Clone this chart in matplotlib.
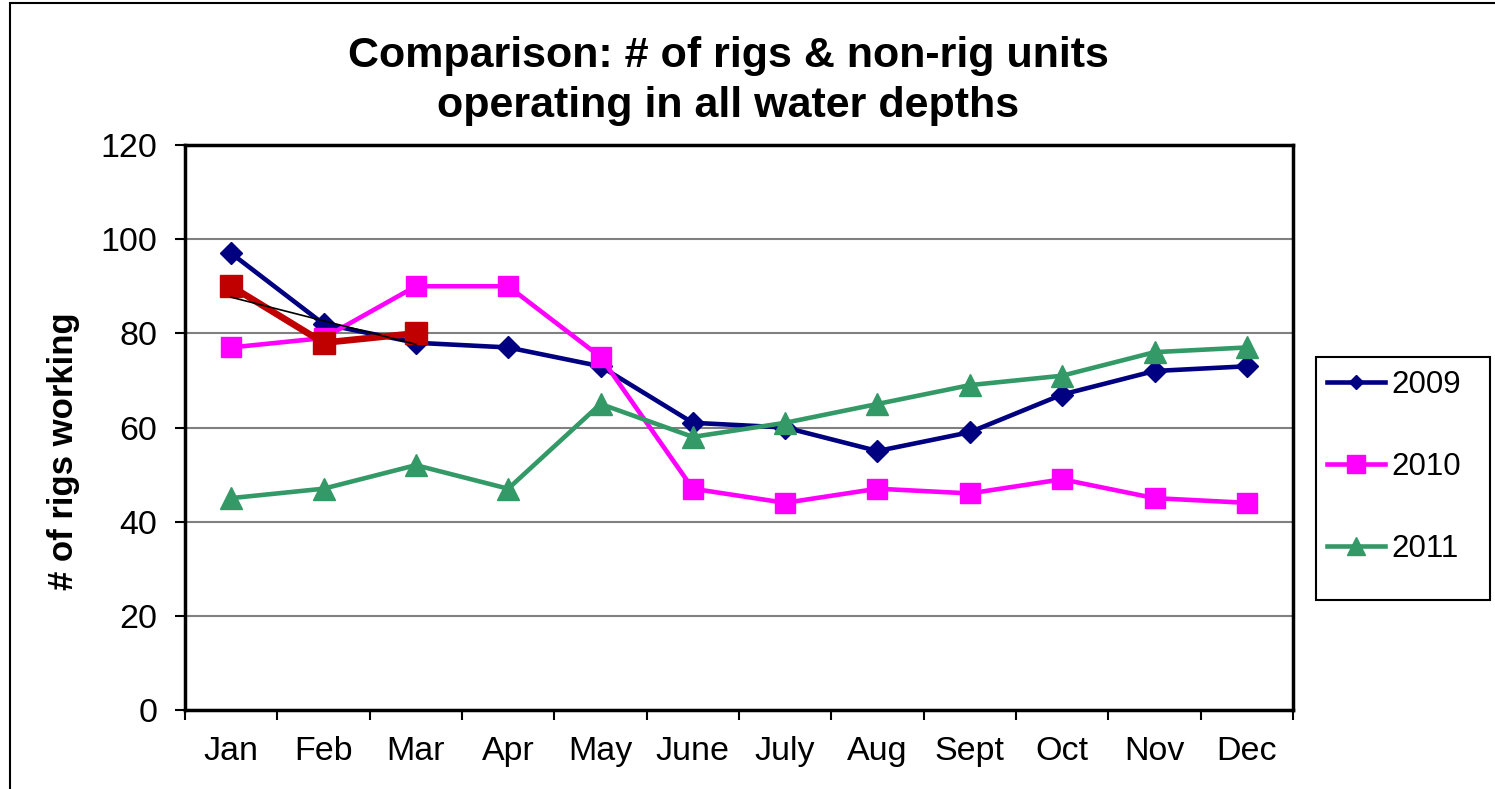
import numpy as np
import matplotlib
matplotlib.use("Agg")
import matplotlib.pyplot as plt
from matplotlib.patches import Rectangle
from matplotlib.ticker import FixedLocator

plt.rcParams['font.family'] = ['Liberation Sans', 'DejaVu Sans']

months = ['Jan', 'Feb', 'Mar', 'Apr', 'May', 'June', 'July', 'Aug', 'Sept', 'Oct', 'Nov', 'Dec']
rigs_2009 = [97, 82, 78, 77, 73, 61, 60, 55, 59, 67, 72, 73]
rigs_2010 = [77, 79, 90, 90, 75, 47, 44, 47, 46, 49, 45, 44]
rigs_2011 = [45, 47, 52, 47, 65, 58, 61, 65, 69, 71, 76, 77]
rigs_2012 = [90, 78, 80]

x = np.arange(len(months))
W, H = 1495, 789

fig = plt.figure(figsize=(W / 100, H / 100), dpi=100)
# outer chart border (right/bottom run off the image)
fig.patches.append(Rectangle((10 / W, -0.01), 1.0, (H - 3) / H + 0.01,
                             transform=fig.transFigure, fill=False,
                             edgecolor='black', linewidth=1.5))

ax = fig.add_axes([185 / W, (H - 710) / H, (1293 - 185) / W, (710 - 145) / H])

ax.plot(x, rigs_2009, color='#000080', lw=3.3, marker='D', ms=11.7, label='2009', zorder=3)
ax.plot(x, rigs_2010, color='#FF00FF', lw=3.3, marker='s', ms=15, label='2010', zorder=4)
ax.plot(x, rigs_2011, color='#339966', lw=3.3, marker='^', ms=16.5, label='2011', zorder=5)
x12 = x[:len(rigs_2012)]
ax.plot(x12, rigs_2012, color='#C00000', lw=4.8, marker='s', ms=16.5, zorder=6)
# linear trendline for 2012
coef = np.polyfit(x12, rigs_2012, 1)
ax.plot(x12, np.polyval(coef, x12), color='black', lw=1.2, zorder=7)

fs = 24.5
ax.set_xlim(-0.5, len(months) - 0.5)
ax.set_ylim(0, 120)
ax.set_yticks(range(0, 121, 20))
ax.set_xticks(x)
ax.set_xticklabels(months)
ax.xaxis.set_minor_locator(FixedLocator(np.arange(-0.5, len(months), 1)))
ax.tick_params(axis='x', which='major', length=0, pad=19, labelsize=fs)
ax.tick_params(axis='x', which='minor', length=7, width=1.5, direction='out')
ax.tick_params(axis='y', length=7, width=1.5, pad=13, labelsize=fs)

ax.yaxis.grid(True, color='#808080', lw=1.5)
ax.set_axisbelow(True)
for s in ax.spines.values():
    s.set_linewidth(2.5)
    s.set_color('black')

ax.set_ylabel('# of rigs working', fontsize=25, fontweight='bold')
ax.yaxis.set_label_coords(-0.095, (710 - 451) / 565)

fig.text(728 / W, 1 - 81 / H, 'Comparison: # of rigs & non-rig units\noperating in all water depths',
         ha='center', va='center', fontsize=31, fontweight='bold', linespacing=1.33)

# legend box drawn separately, Excel-style
fig.patches.append(Rectangle((1316 / W, (H - 600) / H), (1490 - 1316) / W, (600 - 357) / H,
                             transform=fig.transFigure, fill=False,
                             edgecolor='black', linewidth=1.5))
leg = ax.legend(loc='upper left', bbox_to_anchor=(1316 / W, (H - 359) / H),
                bbox_transform=fig.transFigure, frameon=False,
                fontsize=22.5, labelspacing=1.67, handlelength=1.86, handletextpad=0.19,
                borderpad=0.35, borderaxespad=0)
for h, m in zip(leg.legend_handles, [7, 13, 12.5]):
    h.set_markersize(m)

fig.savefig('out.png', dpi=100)
